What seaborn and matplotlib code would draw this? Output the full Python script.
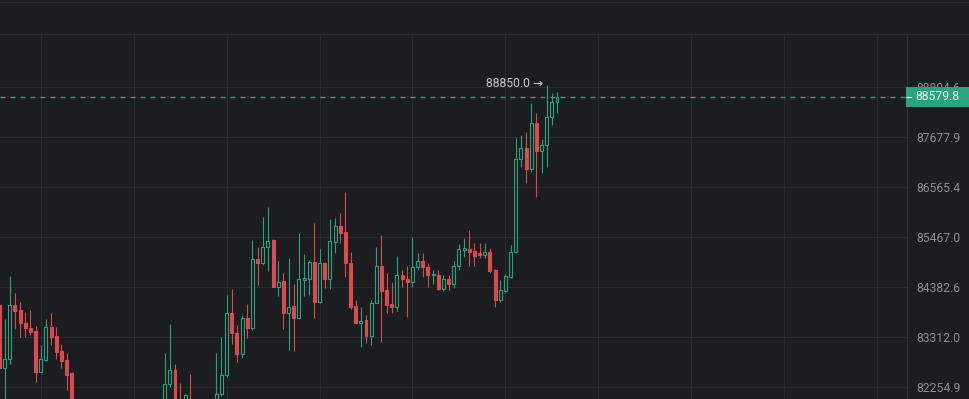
import numpy as np
import pandas as pd
import matplotlib
matplotlib.use("Agg")
import matplotlib.pyplot as plt
import seaborn as sns
from matplotlib.patches import Rectangle
from matplotlib.lines import Line2D
from matplotlib.ticker import FixedLocator, NullLocator

# ---------------- data ----------------
opens = [83991, 82650, 82840, 83991, 83884, 83605, 83498, 83434, 82566, 82819,
         83520, 83327, 83010, 82819, 82545, 81800, 81600, 81400, 81550, 81200,
         81050, 81250, 81100, 80900, 81150, 81300, 81150, 81400, 81550, 81450,
         81650, 81600, 81800, 82312, 82608, 81950, 81750, 81980, 81700, 81500,
         81650, 81800, 81950, 82103, 82502, 83820, 83391, 82946, 83712, 83498,
         84983, 84897, 85244, 85395, 84376, 84506, 83820, 83969, 83712, 84528,
         84549, 84918, 84055, 84897, 84549, 85352, 85702, 85570, 84897, 83969,
         83605, 83670, 83327, 84034, 84831, 84312, 84012, 83948, 84636, 84549,
         84484, 84810, 84940, 84810, 84636, 84636, 84333, 84549, 84441, 84831,
         85179, 85200, 85157, 85113, 85070, 85135, 84745, 84098, 84291, 84593,
         85135, 87182, 87427, 86959, 87987, 87360, 87493, 88122, 88460]
highs = [84098, 83691, 84614, 84248, 84055, 83841, 83884, 83541, 83137, 83691,
         83820, 83520, 83158, 82967, 82566, 81950, 81700, 81650, 81600, 81350,
         81400, 81350, 81200, 81250, 81450, 81400, 81500, 81700, 81650, 81800,
         81750, 81900, 82967, 83584, 82735, 82333, 82103, 82523, 81850, 81800,
         81900, 81980, 82967, 83312, 84205, 84323, 83562, 83777, 84012, 85395,
         85244, 85900, 86119, 85417, 84940, 84680, 85005, 84441, 85548, 85092,
         84962, 85768, 85200, 84918, 85856, 85878, 85988, 86449, 85135, 84098,
         83948, 83777, 84098, 85244, 85504, 84680, 84484, 85048, 84745, 84831,
         85460, 85113, 85113, 84897, 84745, 84745, 84636, 84636, 84940, 85309,
         85439, 85614, 85330, 85330, 85330, 85222, 84766, 84528, 84658, 85287,
         87649, 87717, 87784, 88437, 88212, 87627, 88850, 88663, 88685]
lows = [82600, 81900, 82735, 83477, 83306, 83306, 83348, 82354, 82560, 82798,
        83137, 82840, 82650, 82186, 81700, 81500, 81250, 81300, 81100, 80900,
        80950, 80950, 80750, 80800, 81050, 81000, 81050, 81300, 81350, 81350,
        81500, 81500, 81700, 82250, 81800, 81650, 81700, 81600, 81400, 81400,
        81550, 81700, 81850, 82050, 82450, 83158, 82777, 82862, 83285, 83455,
        84419, 84853, 84723, 84370, 84184, 83477, 83031, 83010, 83700, 84184,
        84205, 83712, 84034, 84355, 84333, 85113, 85330, 84593, 83905, 83584,
        83094, 83179, 83137, 84030, 83200, 83820, 83820, 83862, 84376, 83734,
        84376, 84745, 84593, 84376, 84441, 84312, 84291, 84312, 84355, 84745,
        85027, 84831, 84831, 85005, 85005, 84680, 83948, 84055, 84269, 84571,
        85113, 87004, 86648, 86893, 86339, 86870, 87004, 87942, 88212]
closes = [82650, 82840, 83991, 83862, 83605, 83498, 83412, 82566, 82840, 83520,
          83306, 82989, 82798, 82502, 81800, 81600, 81400, 81550, 81200, 81050,
          81250, 81100, 80900, 81150, 81300, 81150, 81400, 81550, 81450, 81650,
          81600, 81800, 82312, 82608, 81900, 81750, 82090, 81700, 81500, 81650,
          81800, 81950, 82103, 82502, 83820, 83391, 82946, 83712, 83498, 84983,
          84897, 85244, 85374, 84376, 84484, 83820, 83948, 83712, 84549, 84571,
          84918, 84055, 84897, 84549, 85374, 85702, 85548, 84897, 83948, 83605,
          83648, 83327, 84034, 84831, 84291, 83991, 83948, 84636, 84549, 84484,
          84810, 84940, 84810, 84636, 84658, 84333, 84549, 84441, 84831, 85200,
          85222, 85135, 85048, 85070, 85135, 84723, 84098, 84312, 84614, 85135,
          87182, 87427, 86959, 87987, 87360, 87493, 88122, 88460, 88579.8]

ytick_values = [82254.9, 83312.0, 84382.6, 85467.0, 86565.4, 87677.9, 88804.6]
ytick_labels = ["82254.9", "83312.0", "84382.6", "85467.0", "86565.4", "87677.9", "88804.6"]
last_price = 88579.8
last_price_label = "88579.8"
max_high_label = "88850.0 \u2192"
time_grid_step = 18

# ---------------- style ----------------
BG = "#1c1d20"
GRID = "#2a2b2f"
SEP = "#303135"
GREEN = "#2aa37f"
RED = "#db4a4e"
LABEL = "#8c8f95"

sns.set_theme(style="dark", rc={
    "axes.facecolor": BG, "figure.facecolor": BG, "savefig.facecolor": BG,
    "grid.color": GRID, "grid.linewidth": 0.75, "axes.edgecolor": SEP,
    "lines.scale_dashes": False,
})
plt.rcParams["font.family"] = ["Roboto", "DejaVu Sans"]

W, H = 969, 399
fig = plt.figure(figsize=(W / 100, H / 100), dpi=100)
top_px = 35
ax = fig.add_axes([0, 0, 907 / W, (H - top_px) / H])
ax.set_facecolor(BG)
ax.set_yscale("log")

df = pd.DataFrame({"open": opens, "high": highs, "low": lows, "close": closes})
df["x"] = np.arange(len(df))
df["up"] = df["close"] >= df["open"]
df["bot"] = df[["open", "close"]].min(axis=1)
df["top"] = df[["open", "close"]].max(axis=1)
df["h"] = np.maximum(df["top"] - df["bot"], 15)
edge = np.where(df["up"], GREEN, RED)
face = np.where(df["up"], BG, RED)

ax.vlines(df["x"], df["low"], df["high"], colors=edge, linewidth=0.8, zorder=2)
ax.bar(df["x"], df["h"], bottom=df["bot"], width=0.58, color=face,
       edgecolor=edge, linewidth=0.8, zorder=3)

ax.set_xlim(0.1, 175.8)
ax.set_ylim(81997, 89985)

# grid
ax.xaxis.set_major_locator(FixedLocator(np.arange(8, 176, time_grid_step)))
ax.xaxis.set_minor_locator(NullLocator())
ax.yaxis.set_major_locator(FixedLocator(ytick_values))
ax.yaxis.set_minor_locator(NullLocator())
ax.set_yticklabels(ytick_labels)
ax.grid(True, which="major", color=GRID, linewidth=0.75, zorder=0)
ax.tick_params(axis="x", length=0, labelbottom=False)
ax.yaxis.tick_right()
ax.tick_params(axis="y", length=0, pad=6.5, labelsize=8.7, labelcolor=LABEL)
for s in ["top", "left", "bottom"]:
    ax.spines[s].set_visible(False)
ax.spines["right"].set_color(SEP)
ax.spines["right"].set_linewidth(0.75)

# current price line (dashed, green)
pl = ax.axhline(last_price, color=GREEN, linewidth=1.0, linestyle=(0, (3.6, 3.6)), zorder=4)
pl.set_snap(True)

# max-high annotation
imax = int(np.argmax(df["high"].values))
ax.annotate(max_high_label, xy=(df["x"][imax], df["high"][imax]),
            xytext=(-3, 1), textcoords="offset points", ha="right", va="center",
            fontsize=8.7, color="#c8cacd", zorder=6)

# price label box on the axis
y_disp = ax.transData.transform((0, last_price))[1]
box = Rectangle((906 / W, (y_disp - 10) / H), 63 / W, 20 / H,
                transform=fig.transFigure, facecolor=GREEN, edgecolor="none", zorder=5)
fig.add_artist(box)
fig.add_artist(Line2D([906 / W, 911 / W], [y_disp / H, y_disp / H],
                      transform=fig.transFigure, color="#dff2ea", linewidth=0.8, zorder=6))
fig.text(915 / W, y_disp / H, last_price_label, ha="left", va="center",
         fontsize=8.7, color="#eef8f4", zorder=7)

# top toolbar band borders
fig.add_artist(Line2D([0, 1], [(H - 34) / H] * 2, transform=fig.transFigure,
                      color=GRID, linewidth=1.0))
fig.add_artist(Line2D([0, 1], [(H - 1.5) / H] * 2, transform=fig.transFigure,
                      color=GRID, linewidth=0.8))

fig.savefig("out.png", dpi=100, facecolor=BG)
